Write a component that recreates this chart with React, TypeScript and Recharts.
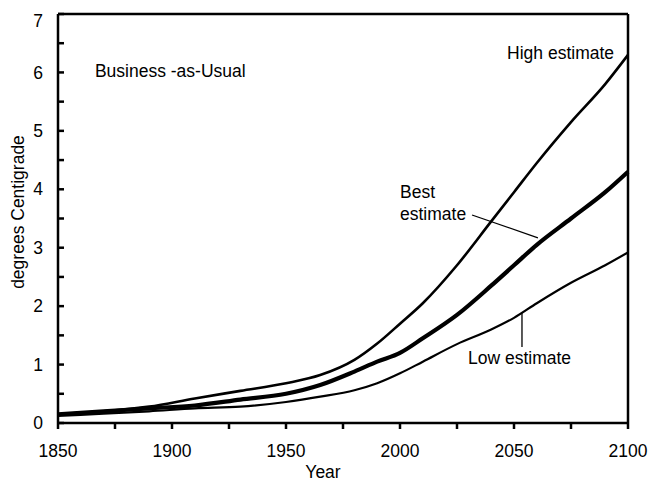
import React from "react";
import {
  LineChart,
  Line,
  XAxis,
  YAxis,
  ReferenceLine,
  ReferenceDot,
} from "recharts";

const years = [
  1850, 1870, 1890, 1910, 1930, 1950, 1965, 1980, 1990, 2000, 2010, 2025, 2040,
  2050, 2060, 2075, 2090, 2100,
];
const highEstimate = [
  0.15, 0.2, 0.28, 0.42, 0.55, 0.68, 0.82, 1.08, 1.36, 1.7, 2.05, 2.7, 3.45,
  3.95, 4.45, 5.15, 5.8, 6.3,
];
const bestEstimate = [
  0.15, 0.2, 0.25, 0.3, 0.4, 0.5, 0.65, 0.88, 1.05, 1.2, 1.45, 1.85, 2.35, 2.7,
  3.05, 3.5, 3.95, 4.3,
];
const lowEstimate = [
  0.12, 0.16, 0.2, 0.25, 0.28, 0.36, 0.45, 0.56, 0.68, 0.85, 1.05, 1.35, 1.6,
  1.8, 2.05, 2.4, 2.7, 2.92,
];

const xTicks = [1850, 1875, 1900, 1925, 1950, 1975, 2000, 2025, 2050, 2075, 2100];
const yTicks = [0, 0.5, 1, 1.5, 2, 2.5, 3, 3.5, 4, 4.5, 5, 5.5, 6, 6.5, 7];

const data = years.map((year, i) => ({
  year,
  high: highEstimate[i],
  best: bestEstimate[i],
  low: lowEstimate[i],
}));

const FONT = "'Liberation Sans', Arial, Helvetica, sans-serif";
const FS = 17.5;

// text placed at a data point; anchor/lines given by caller
const noteLabel =
  (lines: string[], anchor: "start" | "end" = "start", lineGap = 22) =>
  (props: any) => {
    const vb = props.viewBox || {};
    const x = vb.x + (vb.width || 0) / 2;
    const y = vb.y + (vb.height || 0) / 2;
    return (
      <text
        x={x}
        y={y}
        textAnchor={anchor}
        fontFamily={FONT}
        fontSize={FS}
        fill="#000"
      >
        {lines.map((l, i) => (
          <tspan key={l} x={x} dy={i === 0 ? 0 : lineGap}>
            {l}
          </tspan>
        ))}
      </text>
    );
  };

// y tick labels only on whole degrees; the top one sits a little lower
const YTick = (props: any) => {
  const { x, y, payload } = props;
  const v = payload.value;
  if (!Number.isInteger(v)) return null;
  return (
    <text
      x={x}
      y={v === 7 ? y + 7 : y}
      dy="0.355em"
      textAnchor="end"
      fontFamily={FONT}
      fontSize={FS}
      fill="#000"
    >
      {v}
    </text>
  );
};

export default function App() {
  return (
    <div>
      <style>{"body{margin:0}"}</style>
      <LineChart
        width={652}
        height={482}
        data={data}
        margin={{ top: 14, right: 0, bottom: 0, left: 0 }}
      >
        <XAxis
          dataKey="year"
          type="number"
          domain={[1850, 2100]}
          ticks={xTicks}
          interval={0}
          height={59}
          tickSize={6}
          tickMargin={16}
          axisLine={{ stroke: "#000", strokeWidth: 2.5 }}
          tickLine={{ stroke: "#000", strokeWidth: 2.5 }}
          tick={{ fill: "#000", fontSize: FS, fontFamily: FONT }}
          tickFormatter={(v: number) => (v % 50 === 0 ? String(v) : "")}
          label={(props: any) => {
            const vb = props.viewBox;
            return (
              <text
                x={vb.x + vb.width / 2 - 20}
                y={478}
                textAnchor="middle"
                fontFamily={FONT}
                fontSize={FS}
                fill="#000"
              >
                Year
              </text>
            );
          }}
        />
        <YAxis
          yAxisId="left"
          type="number"
          domain={[0, 7]}
          ticks={yTicks}
          interval={0}
          width={58}
          tickSize={-6}
          tickMargin={21}
          axisLine={{ stroke: "#000", strokeWidth: 2.5 }}
          tickLine={{ stroke: "#000", strokeWidth: 2.5 }}
          tick={<YTick />}
          label={() => (
            <text
              x={24}
              y={212}
              transform="rotate(-90, 24, 212)"
              textAnchor="middle"
              fontFamily={FONT}
              fontSize={FS}
              fill="#000"
            >
              degrees Centigrade
            </text>
          )}
        />
        <YAxis
          yAxisId="right"
          orientation="right"
          type="number"
          domain={[0, 7]}
          ticks={yTicks}
          interval={0}
          width={24}
          tickSize={-6}
          tick={false}
          axisLine={{ stroke: "#000", strokeWidth: 2.5 }}
          tickLine={{ stroke: "#000", strokeWidth: 2.5 }}
        />
        <ReferenceLine yAxisId="left" y={7} stroke="#000" strokeWidth={2.5} />

        <Line
          yAxisId="left"
          type="monotone"
          dataKey="low"
          stroke="#000"
          strokeWidth={2.2}
          dot={false}
          isAnimationActive={false}
        />
        <Line
          yAxisId="left"
          type="monotone"
          dataKey="high"
          stroke="#000"
          strokeWidth={2.6}
          dot={false}
          isAnimationActive={false}
        />
        <Line
          yAxisId="left"
          type="monotone"
          dataKey="best"
          stroke="#000"
          strokeWidth={4.2}
          dot={false}
          isAnimationActive={false}
        />

        {/* leader lines for the annotations */}
        <ReferenceLine
          yAxisId="left"
          segment={[
            { x: 2031.6, y: 3.56 },
            { x: 2060.5, y: 3.17 },
          ]}
          stroke="#000"
          strokeWidth={1.3}
        />
        <ReferenceLine
          yAxisId="left"
          segment={[
            { x: 2053.5, y: 1.88 },
            { x: 2053.5, y: 1.3 },
          ]}
          stroke="#000"
          strokeWidth={1.3}
        />

        <ReferenceDot
          yAxisId="left"
          x={1866.2}
          y={5.92}
          r={0}
          fill="none"
          stroke="none"
          label={noteLabel(["Business -as-Usual"])}
        />
        <ReferenceDot
          yAxisId="left"
          x={2093.9}
          y={6.23}
          r={0}
          fill="none"
          stroke="none"
          label={noteLabel(["High estimate"], "end")}
        />
        <ReferenceDot
          yAxisId="left"
          x={2000}
          y={3.85}
          r={0}
          fill="none"
          stroke="none"
          label={noteLabel(["Best", "estimate"])}
        />
        <ReferenceDot
          yAxisId="left"
          x={2029.8}
          y={1.01}
          r={0}
          fill="none"
          stroke="none"
          label={noteLabel(["Low estimate"])}
        />
      </LineChart>
    </div>
  );
}
